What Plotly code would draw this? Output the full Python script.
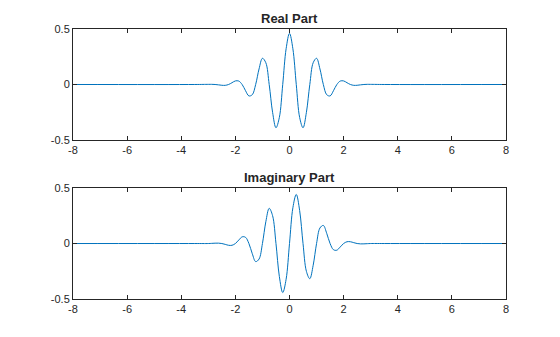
import plotly.graph_objects as go
from plotly.subplots import make_subplots

# sample positions (x)
x = [-8, -3.5, -3.0, -2.875, -2.75, -2.625, -2.5, -2.375, -2.25, -2.125, -2.0,
     -1.875, -1.75, -1.625, -1.5, -1.375, -1.25, -1.125, -1.0,
     -0.875, -0.75, -0.625, -0.5, -0.375, -0.25, -0.125, 0.0,
     0.125, 0.25, 0.375, 0.5, 0.625, 0.75, 0.875, 1.0,
     1.125, 1.25, 1.375, 1.5, 1.625, 1.75, 1.875, 2.0,
     2.125, 2.25, 2.375, 2.5, 2.625, 2.75, 2.875, 3.0, 3.5, 8]

real_part = [0, 0, 0.0011, 0.0013, 0, -0.0033, -0.0071, -0.0076, 0, 0.016, 0.032,
             0.031, 0, -0.056, -0.103, -0.092, 0, 0.140, 0.236,
             0.196, 0, -0.251, -0.390, -0.297, 0, 0.322, 0.461,
             0.322, 0, -0.297, -0.390, -0.251, 0, 0.196, 0.236,
             0.140, 0, -0.092, -0.103, -0.056, 0, 0.031, 0.032,
             0.016, 0, -0.0076, -0.0071, -0.0033, 0, 0.0013, 0.0011, 0, 0]

imag_part = [0, 0, 0, 0.0013, 0.003, 0.0033, 0, -0.0076, -0.016, -0.016, 0,
             0.031, 0.060, 0.056, 0, -0.092, -0.163, -0.140, 0,
             0.196, 0.317, 0.251, 0, -0.297, -0.442, -0.322, 0,
             0.322, 0.442, 0.297, 0, -0.251, -0.317, -0.196, 0,
             0.140, 0.163, 0.092, 0, -0.056, -0.060, -0.031, 0,
             0.016, 0.016, 0.0076, 0, -0.0033, -0.003, -0.0013, 0, 0, 0]

titles = ["Real Part", "Imaginary Part"]
x_ticks = [-8, -6, -4, -2, 0, 2, 4, 6, 8]
y_ticks = [-0.5, 0, 0.5]
y_ticktext = ["-0.5", "0", "0.5"]

fig = make_subplots(rows=2, cols=1, vertical_spacing=0.178)
line_color = "#0072BD"
for i, ys in enumerate([real_part, imag_part], start=1):
    fig.add_trace(go.Scatter(x=x, y=ys, mode="lines",
                             line=dict(color=line_color, width=1, shape="spline", smoothing=1.0),
                             showlegend=False), row=i, col=1)

axis_color = "#262626"
font = dict(family="Liberation Sans, Arial, sans-serif", size=11, color=axis_color)
for i in (1, 2):
    fig.update_xaxes(range=[-8, 8], tickvals=x_ticks, ticktext=[str(v) for v in x_ticks],
                     ticks="inside", ticklen=4, tickcolor=axis_color, showline=True,
                     linecolor=axis_color, linewidth=1, mirror="ticks", showgrid=False,
                     zeroline=False, tickfont=font, row=i, col=1)
    fig.update_yaxes(range=[-0.5, 0.5], tickvals=y_ticks, ticktext=y_ticktext,
                     ticks="inside", ticklen=4, tickcolor=axis_color, showline=True,
                     linecolor=axis_color, linewidth=1, mirror="ticks", showgrid=False,
                     zeroline=False, tickfont=font, row=i, col=1)

fig.update_layout(
    width=560, height=337,
    margin=dict(l=73, r=54, t=29, b=38),
    plot_bgcolor="white", paper_bgcolor="white",
    font=font,
    yaxis=dict(domain=[0.589, 1.0]),
    yaxis2=dict(domain=[0.0, 0.411]),
)

for yref, t in zip(["y domain", "y2 domain"], titles):
    fig.add_annotation(text="<b>%s</b>" % t, x=0.5, xref="paper", y=1.0, yref=yref,
                       yanchor="bottom", yshift=1, showarrow=False,
                       font=dict(family="Liberation Sans, Arial, sans-serif", size=13, color="#262626"))

fig.write_html("out.html")
